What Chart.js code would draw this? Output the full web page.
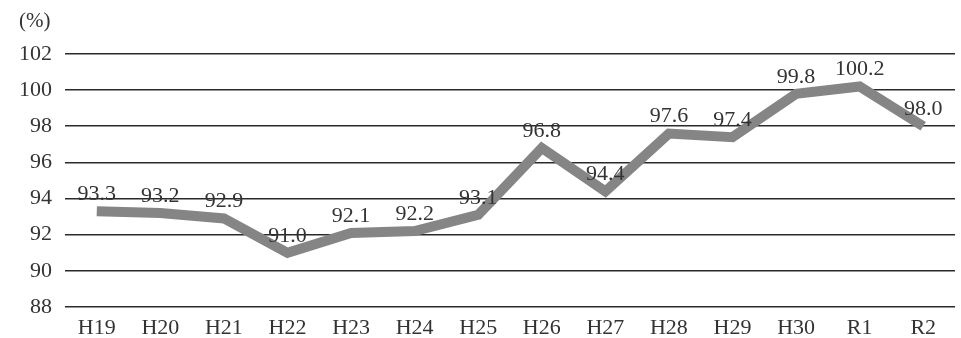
<!DOCTYPE html>
<html>
<head>
<meta charset="utf-8">
<script src="https://cdn.jsdelivr.net/npm/chart.js@4"></script>
<style>
  html, body { margin: 0; padding: 0; background: #fff; }
  #wrap { width: 961px; height: 338px; }
</style>
</head>
<body>
<div id="wrap"><canvas id="rateChart" width="961" height="338"></canvas></div>
<script>
const years = ['H19', 'H20', 'H21', 'H22', 'H23', 'H24', 'H25', 'H26', 'H27', 'H28', 'H29', 'H30', 'R1', 'R2'];
const rates = [93.3, 93.2, 92.9, 91.0, 92.1, 92.2, 93.1, 96.8, 94.4, 97.6, 97.4, 99.8, 100.2, 98.0];
const yMin = 88;
const yMax = 102;
const yStep = 2;

const serif = '"Liberation Serif", "DejaVu Serif", serif';
const textColor = '#333';

// value labels above each point + the (%) unit
const valueLabels = {
    id: 'valueLabels',
    afterDatasetsDraw(chart) {
        const ctx = chart.ctx;
        const meta = chart.getDatasetMeta(0);
        ctx.save();
        ctx.font = '22px ' + serif;
        ctx.fillStyle = textColor;
        ctx.textAlign = 'center';
        ctx.textBaseline = 'middle';
        meta.data.forEach((pt, i) => {
            ctx.fillText(rates[i].toFixed(1), pt.x, pt.y - 17);
        });
        ctx.font = '21px ' + serif;
        ctx.textAlign = 'left';
        ctx.fillText('(%)', 19, 21);
        ctx.restore();
    }
};

new Chart(document.getElementById('rateChart').getContext('2d'), {
    type: 'line',
    data: {
        labels: years,
        datasets: [{
            data: rates,
            borderColor: '#858585',
            borderWidth: 10,
            borderJoinStyle: 'miter',
            borderCapStyle: 'butt',
            pointRadius: 0,
            tension: 0,
            fill: false
        }]
    },
    options: {
        responsive: false,
        animation: false,
        layout: { padding: { top: 54, right: 6, left: 0, bottom: 0 } },
        plugins: {
            legend: { display: false },
            title: { display: false },
            tooltip: { enabled: false }
        },
        scales: {
            x: {
                offset: true,
                grid: { display: false },
                border: { display: false },
                ticks: {
                    color: textColor,
                    font: { family: serif, size: 22 },
                    padding: 0,
                    maxRotation: 0
                },
                afterFit(scale) { scale.height = 31; }
            },
            y: {
                min: yMin,
                max: yMax,
                grid: {
                    color: '#2a2a2a',
                    lineWidth: 1.6,
                    drawTicks: false
                },
                border: { display: false },
                ticks: {
                    stepSize: yStep,
                    color: textColor,
                    font: { family: serif, size: 22 },
                    padding: 13
                },
                afterFit(scale) { scale.width = 65; }
            }
        }
    },
    plugins: [valueLabels]
});
</script>
</body>
</html>
